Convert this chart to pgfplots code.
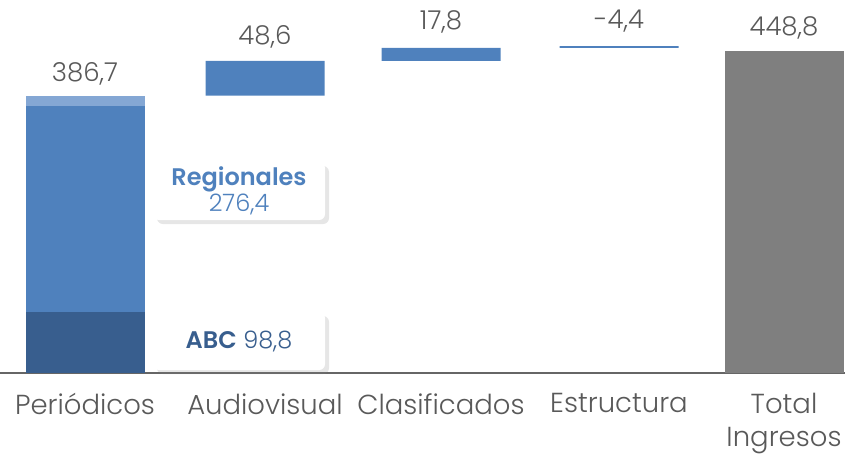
\documentclass[border=0pt]{standalone}
\usepackage{pgfplots}
\pgfplotsset{compat=1.18}
\usepackage{fontspec}
\setmainfont{Poppins}[UprightFont=* Light, BoldFont=* SemiBold]
\usetikzlibrary{shadows}
\definecolor{cdark}{HTML}{385E8E}
\definecolor{cmid}{HTML}{4F81BD}
\definecolor{clight}{HTML}{84A7D4}
\definecolor{cgray}{HTML}{7F7F7F}
\definecolor{ctext}{HTML}{595959}
\begin{document}
\begin{tikzpicture}
\begin{axis}[
  scale only axis, width=845pt, height=373pt,
  xmin=0, xmax=845, ymin=0, ymax=520,
  axis x line=bottom, axis y line=none,
  x axis line style={draw=gray!80!black, line width=1.3pt, -},
  ybar stacked, bar width=119, bar shift=0pt,
  xtick={85,265,441,619,784},
  xticklabels={Periódicos,Audiovisual,Clasificados,Estructura,{Total\\Ingresos}},
  xticklabel style={font=\fontsize{27.5}{33}\selectfont, text=ctext, align=center, yshift=-17pt},
  major tick length=0pt,
  clip=false,
]
\addplot[draw=none, fill=none] coordinates {(85,0) (265,386.7) (441,435.3) (619,453.1) (784,0)};
\addplot[draw=none, fill=cdark] coordinates {(85,85) (265,0) (441,0) (619,0) (784,0)};
\addplot[draw=none, fill=cmid] coordinates {(85,287) (265,0) (441,0) (619,0) (784,0)};
\addplot[draw=none, fill=clight] coordinates {(85,14.7) (265,0) (441,0) (619,0) (784,0)};
\addplot[draw=none, fill=cmid] coordinates {(85,0) (265,48.6) (441,17.8) (619,2.6) (784,0)};
\addplot[draw=none, fill=cgray] coordinates {(85,0) (265,0) (441,0) (619,0) (784,448.8)};

\coordinate (l1) at (axis cs:85,417);
\coordinate (l2) at (axis cs:265,469);
\coordinate (l3) at (axis cs:441,490);
\coordinate (l4) at (axis cs:619,490);
\coordinate (l5) at (axis cs:784,481);
\coordinate (b1) at (axis cs:239,253.7);
\coordinate (b2) at (axis cs:239,44.6);
\end{axis}
\begin{scope}[every node/.style={font=\fontsize{26}{30}\selectfont, text=ctext}]
\node at (l1) {386,7};
\node at (l2) {48,6};
\node at (l3) {17,8};
\node at (l4) {-4,4};
\node at (l5) {448,8};
\end{scope}
\node[fill=white, rounded corners=6pt, minimum width=172pt, minimum height=58pt, align=center,
  drop shadow={shadow xshift=4pt, shadow yshift=-4pt, opacity=0.2}, inner sep=0pt,
  font=\fontsize{24}{26}\selectfont, text=cmid]
  at (b1) {\textbf{Regionales}\\276,4};
\node[fill=white, rounded corners=6pt, minimum width=172pt, minimum height=58pt, align=center,
  drop shadow={shadow xshift=4pt, shadow yshift=-4pt, opacity=0.2}, inner sep=0pt,
  font=\fontsize{24}{26}\selectfont, text=cdark]
  at (b2) {\textbf{ABC} 98,8};
\pgfresetboundingbox
\path (current axis.south west) ++(0,-82pt) rectangle (current axis.north east);
\end{tikzpicture}
\end{document}
